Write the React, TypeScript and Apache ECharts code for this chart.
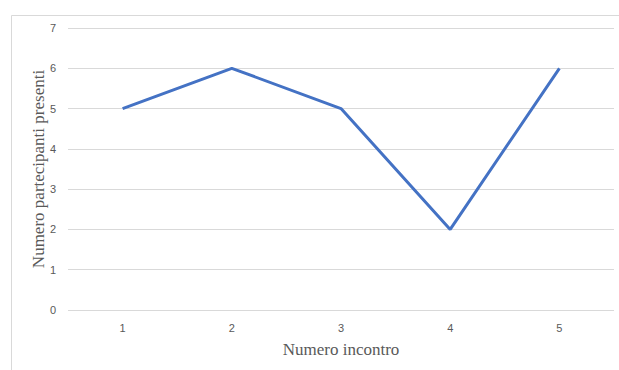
import React, { useEffect, useRef } from "react";
import * as echarts from "echarts";

const incontri = ["1", "2", "3", "4", "5"];
const presenti = [5, 6, 5, 2, 6];

export default function App() {
  const ref = useRef<HTMLDivElement>(null);

  useEffect(() => {
    if (!ref.current) return;
    const chart = echarts.init(ref.current, null, { renderer: "svg" });
    chart.setOption({
      animation: false,
      backgroundColor: "#ffffff",
      graphic: [
        {
          type: "rect",
          left: 9,
          top: 13,
          shape: { width: 700, height: 400 },
          style: { fill: "none", stroke: "#d9d9d9", lineWidth: 1 },
          silent: true,
        },
      ],
      grid: { left: 68, right: 5, top: 28, bottom: 60 },
      xAxis: {
        type: "category",
        data: incontri,
        boundaryGap: true,
        name: "Numero incontro",
        nameLocation: "middle",
        nameGap: 31,
        nameMoveOverlap: false,
        nameTextStyle: {
          fontFamily: "Liberation Serif",
          fontSize: 17,
          color: "#595959",
        },
        axisLine: { show: false },
        axisTick: { show: false },
        axisLabel: {
          fontFamily: "Liberation Sans",
          fontSize: 11,
          color: "#595959",
          margin: 12,
        },
      },
      yAxis: {
        type: "value",
        min: 0,
        max: 7,
        interval: 1,
        name: "Numero partecipanti presenti",
        nameLocation: "middle",
        nameGap: 21,
        nameMoveOverlap: false,
        nameTextStyle: {
          fontFamily: "Liberation Serif",
          fontSize: 17,
          color: "#595959",
        },
        axisLine: { show: false },
        axisTick: { show: false },
        axisLabel: {
          fontFamily: "Liberation Sans",
          fontSize: 11,
          color: "#595959",
          margin: 12,
        },
        splitLine: { lineStyle: { color: "#d9d9d9", width: 1 } },
      },
      series: [
        {
          type: "line",
          data: presenti,
          showSymbol: false,
          symbol: "none",
          lineStyle: { color: "#4472c4", width: 3 },
        },
      ],
    });
    return () => chart.dispose();
  }, []);

  return (
    <div
      ref={ref}
      style={{ position: "absolute", left: 0, top: 0, width: 619, height: 370 }}
    />
  );
}
